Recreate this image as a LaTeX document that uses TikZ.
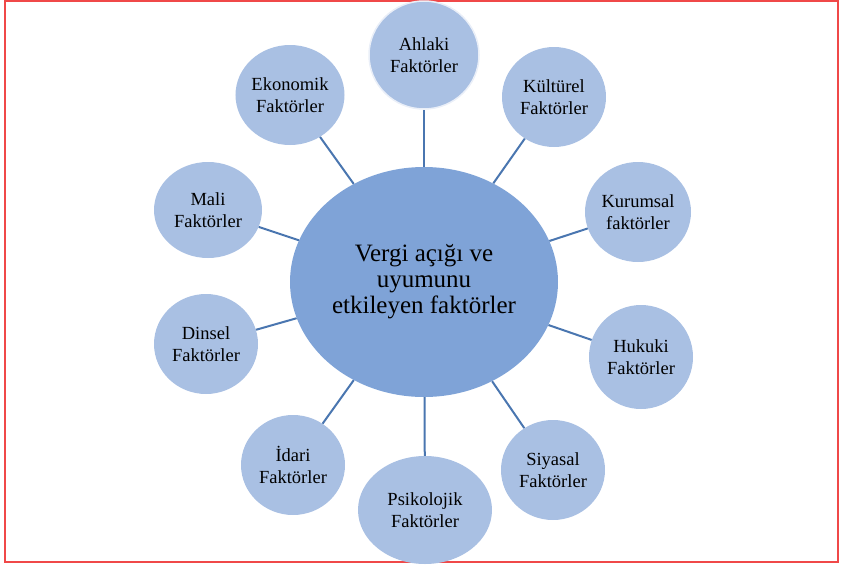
\documentclass[tikz,border=0pt]{standalone}
\usepackage{fontspec}
\setmainfont{Liberation Serif}
\usetikzlibrary{positioning, shapes.geometric}
\definecolor{smallfill}{HTML}{A9C0E3}
\definecolor{bigfill}{HTML}{7FA3D7}
\definecolor{linkblue}{HTML}{4A76B0}
\definecolor{framered}{HTML}{F04848}

\begin{document}
\begin{tikzpicture}[x=1pt, y=-1pt]
    \tikzstyle{factor} = [ellipse, fill=smallfill, inner sep=0pt, align=center, font=\fontsize{18.5}{22}\selectfont, minimum width=104pt, minimum height=100pt]
    \tikzstyle{core} = [ellipse, fill=bigfill, inner sep=0pt, align=center, font=\fontsize{25}{26}\selectfont, minimum width=268pt, minimum height=230pt]
    \tikzstyle{link} = [draw=linkblue, line width=2pt]

    \useasboundingbox (0,0) rectangle (841,565);
    \draw [framered, line width=2pt] (5,1) rectangle (838,562);

    \node [core] (gap) at (424,282) {Vergi açığı ve\\uyumunu\\etkileyen faktörler};

    \node [factor, minimum width=110pt, minimum height=108pt, draw=white!75!smallfill, line width=1.5pt] (ahlaki) at (424,55) {Ahlaki\\Faktörler};
    \node [factor] (kulturel) at (554,97) {Kültürel\\Faktörler};
    \node [factor, minimum width=106pt] (kurumsal) at (638,212) {Kurumsal\\faktörler};
    \node [factor, minimum height=104pt] (hukuki) at (641,357) {Hukuki\\Faktörler};
    \node [factor] (siyasal) at (553,470) {Siyasal\\Faktörler};
    \node [factor, minimum width=134pt, minimum height=108pt] (psikolojik) at (425,510) {Psikolojik\\Faktörler};
    \node [factor] (idari) at (293,465) {İdari\\Faktörler};
    \node [factor] (dinsel) at (206,344) {Dinsel\\Faktörler};
    \node [factor, minimum width=108pt, minimum height=96pt] (mali) at (208,210) {Mali\\Faktörler};
    \node [factor, minimum width=106pt] (ekonomik) at (290,95) {Ekonomik\\Faktörler};

    \draw [link] (gap) -- (ahlaki);
    \draw [link] (gap) -- (kulturel);
    \draw [link] (gap) -- (kurumsal);
    \draw [link] (gap) -- (hukuki);
    \draw [link] (gap) -- (siyasal);
    \draw [link] (gap) -- (psikolojik);
    \draw [link] (gap) -- (idari);
    \draw [link] (gap) -- (dinsel);
    \draw [link] (gap) -- (mali);
    \draw [link] (gap) -- (ekonomik);
\end{tikzpicture}
\end{document}
